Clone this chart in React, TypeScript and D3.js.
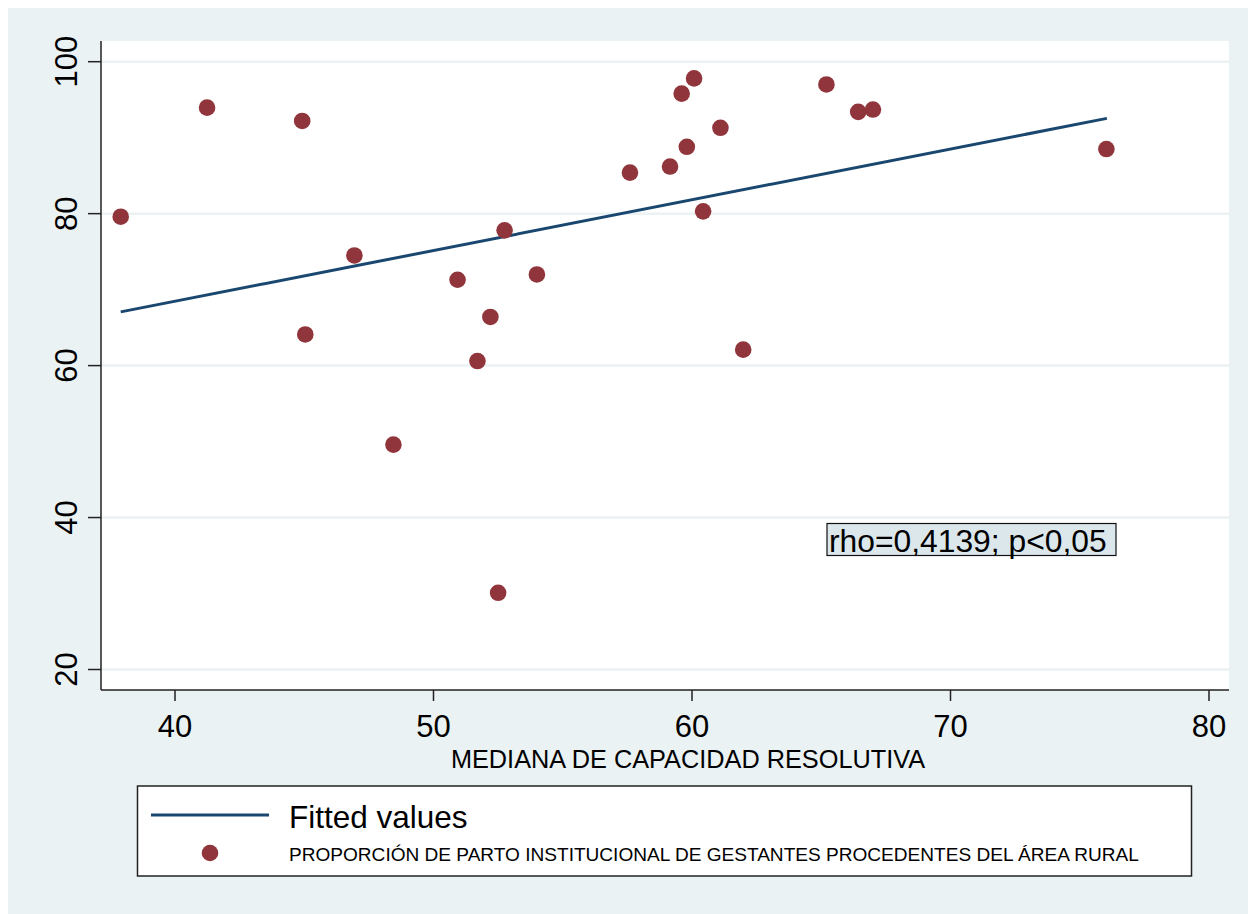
import React from 'react';
import * as d3 from 'd3';

// capacidad resolutiva (x) vs parto institucional rural (y)
const capacidad = [37.9, 41.24, 44.92, 45.04, 46.94, 48.45, 50.93, 52.2, 51.7, 52.75, 52.5, 54.0,
  57.6, 59.15, 59.6, 60.08, 59.8, 61.1, 60.43, 61.98, 65.2, 66.43, 67.0, 76.03];
const partoRural = [79.6, 93.95, 92.2, 64.1, 74.5, 49.6, 71.3, 66.4, 60.6, 77.8, 30.1, 72.0,
  85.4, 86.2, 95.8, 97.8, 88.8, 91.3, 80.3, 62.1, 97.0, 93.4, 93.7, 88.5];

const fittedX = [37.9, 76.05];
const fittedY = [67.07, 92.54];

const xTicks = [40, 50, 60, 70, 80];
const yTicks = [20, 40, 60, 80, 100];

const xTitle = 'MEDIANA DE CAPACIDAD RESOLUTIVA';
const legendLabels = ['Fitted values', 'PROPORCIÓN DE PARTO INSTITUCIONAL DE GESTANTES PROCEDENTES DEL ÁREA RURAL'];
const noteText = 'rho=0,4139; p<0,05';

const BG = '#eaf2f3';
const MAROON = '#90353b';
const NAVY = '#1a476f';
const FONT = 'Arial, "Liberation Sans", Helvetica, sans-serif';

export default function App() {
  // plot region in page coordinates
  const left = 101, right = 1229, top = 41, bottom = 690;

  const x = d3.scaleLinear().domain([40, 80]).range([175, 1209]);
  const y = d3.scaleLinear().domain([20, 100]).range([669.5, 61.7]);

  const fitLine = d3.line<number>()
    .x((d) => x(d))
    .y((_, i) => y(fittedY[i]));

  return (
    <svg
      width={1240}
      height={906}
      viewBox="8 8 1240 906"
      style={{ position: 'fixed', left: 8, top: 8, display: 'block' }}
      fontFamily={FONT}
    >
      <rect x={8} y={8} width={1240} height={906} fill={BG} />
      <rect x={left} y={top} width={right - left} height={bottom - top} fill="#fff" />

      {/* gridlines */}
      {yTicks.map((t) => (
        <line key={'g' + t} x1={left} x2={right} y1={y(t)} y2={y(t)} stroke={BG} strokeWidth={2.5} />
      ))}

      {/* axes */}
      <line x1={left} x2={left} y1={top} y2={bottom} stroke="#222" strokeWidth={1.5} />
      <line x1={left} x2={right} y1={bottom} y2={bottom} stroke="#222" strokeWidth={1.5} />

      {yTicks.map((t) => (
        <g key={'y' + t}>
          <line x1={88} x2={left} y1={y(t)} y2={y(t)} stroke="#222" strokeWidth={1.5} />
          <text
            transform={`translate(77,${y(t)}) rotate(-90)`}
            textAnchor="middle"
            fontSize={31}
            fill="#000"
          >
            {t}
          </text>
        </g>
      ))}

      {xTicks.map((t) => (
        <g key={'x' + t}>
          <line x1={x(t)} x2={x(t)} y1={bottom} y2={bottom + 11} stroke="#222" strokeWidth={1.5} />
          <text x={x(t)} y={737} textAnchor="middle" fontSize={31} fill="#000">
            {t}
          </text>
        </g>
      ))}

      <text x={688} y={768} textAnchor="middle" fontSize={25.3} fill="#000">
        {xTitle}
      </text>

      {/* fitted line */}
      <path d={fitLine(fittedX) || ''} fill="none" stroke={NAVY} strokeWidth={3} />

      {/* points */}
      {capacidad.map((c, i) => (
        <circle key={'p' + i} cx={x(c)} cy={y(partoRural[i])} r={8.3} fill={MAROON} />
      ))}

      {/* annotation */}
      <rect x={827} y={523.5} width={289} height={32} fill="#dce7ec" stroke="#111" strokeWidth={1.2} />
      <text x={829} y={552} fontSize={31.8} fill="#000">
        {noteText}
      </text>

      {/* legend */}
      <rect x={137.5} y={786} width={1054} height={90} fill="#fff" stroke="#222" strokeWidth={1.5} />
      <line x1={151} x2={269} y1={815} y2={815} stroke={NAVY} strokeWidth={3} />
      <text x={289} y={828} fontSize={31.5} fill="#000">
        {legendLabels[0]}
      </text>
      <circle cx={210} cy={853} r={8.3} fill={MAROON} />
      <text x={289} y={860.5} fontSize={19.07} fill="#000">
        {legendLabels[1]}
      </text>
    </svg>
  );
}
